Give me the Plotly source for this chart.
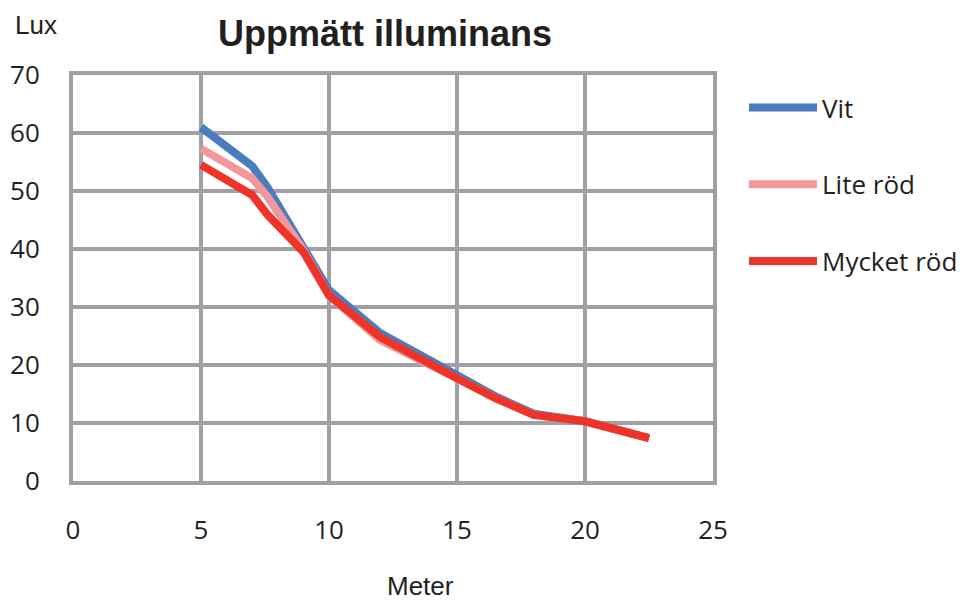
import plotly.graph_objects as go

meter = [5, 7, 7.6, 9, 10, 12, 15, 16.5, 18, 20, 22.5]
vit = [61.0, 54.3, 50.6, 40.5, 32.9, 25.5, 18.2, 14.6, 11.6, 10.3, 7.4]
lite_rod = [57.3, 52.2, 49.0, 39.8, 32.0, 24.3, 17.7, 14.3, 11.4, 10.3, 7.4]
mycket_rod = [54.5, 49.3, 45.9, 39.5, 32.0, 24.8, 17.7, 14.3, 11.4, 10.3, 7.4]
series_names = ["Vit", "Lite röd", "Mycket röd"]
colors = ["#4a7cc0", "#f4979a", "#ee3429"]
x_ticks = [0, 5, 10, 15, 20, 25]
y_ticks = [0, 10, 20, 30, 40, 50, 60, 70]

W, H = 964, 602
L, R, T, B = 73, 713, 75, 481

def px(xp):
    return (xp - L) / (R - L)

def py(yp):
    return (B - yp) / (B - T)

fig = go.Figure()
for name, ys, c in zip(series_names, [vit, lite_rod, mycket_rod], colors):
    fig.add_trace(go.Scatter(x=meter, y=ys, mode="lines", name=name,
                             legendgroup=name,
                             line=dict(color=c, width=8)))

grid = "#a0a0a4"
txt = "#231f20"
narrow = "Liberation Sans Narrow, Liberation Sans, Arial, sans-serif"
tickfont = dict(family="Open Sans, Noto Sans, sans-serif", size=26, color=txt)
fig.update_layout(
    width=W, height=H,
    margin=dict(l=L, r=W - R, t=T, b=H - B, autoexpand=False),
    paper_bgcolor="white", plot_bgcolor="white",
    title=dict(text="<b>Uppmätt illuminans</b>", x=385 / W, xanchor="center",
               y=1 - 33 / H, yanchor="middle",
               font=dict(family=narrow, size=36, color=txt)),
    showlegend=True,
    legend=dict(x=px(744), xanchor="left", y=py(84), yanchor="top",
                font=dict(family="Open Sans, Noto Sans, sans-serif", size=26, color=txt),
                itemwidth=68, tracegroupgap=40, traceorder="grouped",
                bgcolor="rgba(0,0,0,0)"),
    xaxis=dict(range=[0, 25], tickvals=x_ticks, showgrid=True, gridcolor=grid, gridwidth=4,
               showline=True, linecolor=grid, linewidth=4, mirror=True, zeroline=False,
               ticks="", tickfont=tickfont, ticklabelstandoff=23, automargin=False),
    yaxis=dict(range=[0, 70], tickvals=y_ticks, showgrid=True, gridcolor=grid, gridwidth=4,
               showline=True, linecolor=grid, linewidth=4, mirror=True, zeroline=False,
               ticks="", tickfont=tickfont, ticklabelstandoff=24, automargin=False),
    annotations=[
        dict(text="Lux", xref="paper", yref="paper", x=px(36), y=py(25),
             xanchor="center", yanchor="middle", showarrow=False,
             font=dict(family=narrow, size=26, color=txt)),
        dict(text="Meter", xref="paper", yref="paper", x=px(420), y=py(586),
             xanchor="center", yanchor="middle", showarrow=False,
             font=dict(family=narrow, size=26, color=txt)),
    ],
)
fig.write_html(
    "out.html",
    config={"displayModeBar": False},
    post_script="document.body.style.margin='0';document.documentElement.style.overflow='hidden';",
)
